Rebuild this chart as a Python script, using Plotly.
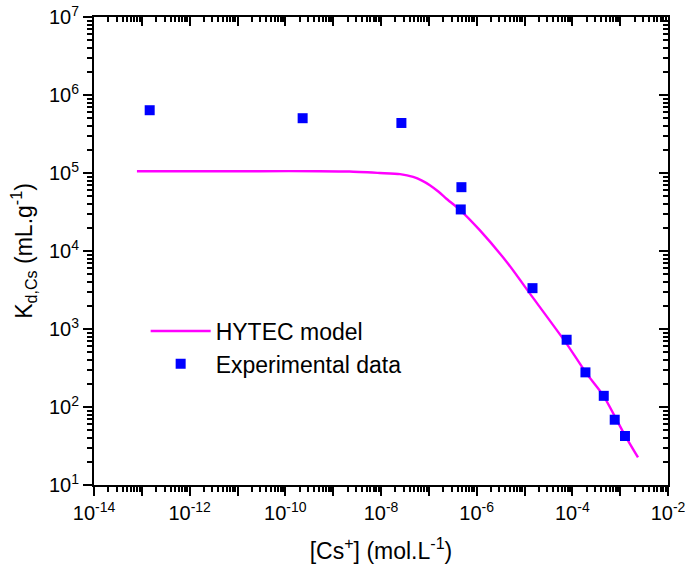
import plotly.graph_objects as go

exp_cs = [1.46e-13, 2.3e-10, 2.67e-8, 4.80e-7, 4.65e-7, 1.47e-5, 7.6e-5, 1.88e-4, 4.54e-4, 7.69e-4, 1.26e-3]
exp_kd = [6.38e5, 5.04e5, 4.38e5, 6.58e4, 3.41e4, 3.34e3, 728, 278, 139, 68.7, 42.5]

# HYTEC model curve
model_cs = [7.9e-14, 1.6e-12, 2.9e-11, 5.2e-10, 2.2e-9, 9.4e-9, 2.5e-8, 4.7e-8, 7.2e-8, 1.05e-7,
            1.6e-7, 2.3e-7, 4.4e-7, 1.16e-6, 4.5e-6, 1.29e-5, 7.5e-5, 1.97e-4, 4.4e-4, 1.25e-3, 2.36e-3]
model_kd = [1.055e5, 1.055e5, 1.055e5, 1.055e5, 1.045e5, 1.0e5, 9.66e4, 8.91e4, 8.0e4, 6.98e4,
            5.75e4, 4.71e4, 3.40e4, 1.85e4, 6.92e3, 2.86e3, 655, 270, 142, 43.7, 22.6]

x_exps = list(range(-14, -1))
y_exps = list(range(1, 8))
x_ticktext = [("10<sup>%d</sup>" % e) if e % 2 == 0 else "" for e in x_exps]
y_ticktext = ["10<sup>%d</sup>" % e for e in y_exps]

FONT = "Liberation Sans, Arial, sans-serif"

x_major = [10.0 ** e for e in x_exps]
y_major = [10.0 ** e for e in y_exps]
x_minor = [m * 10.0 ** e for e in x_exps[:-1] for m in range(2, 10)]
y_minor = [m * 10.0 ** e for e in y_exps[:-1] for m in range(2, 10)]

fig = go.Figure()
fig.add_trace(go.Scatter(x=model_cs, y=model_kd, mode="lines", name="HYTEC model",
                         line=dict(color="#FF00FF", width=2.4, shape="spline", smoothing=0.6)))
fig.add_trace(go.Scatter(x=exp_cs, y=exp_kd, mode="markers", name="Experimental data",
                         marker=dict(symbol="square", size=10, color="#0000FF", line=dict(width=0))))
# invisible trace to attach mirror axes (top/right, inward ticks)
fig.add_trace(go.Scatter(x=exp_cs, y=exp_kd, mode="markers", xaxis="x2", yaxis="y2",
                         marker=dict(opacity=0), showlegend=False, hoverinfo="skip"))

common = dict(type="log", showgrid=False, zeroline=False, showline=True, automargin=False,
              linecolor="black", linewidth=2, tickcolor="black", tickwidth=1.5)

fig.update_layout(
    width=685, height=566,
    margin=dict(l=94, r=17, t=17, b=81),
    paper_bgcolor="white", plot_bgcolor="white",
    font=dict(family=FONT, color="black"),
    xaxis=dict(**common, range=[-14, -2], tickmode="array", tickvals=x_major, ticktext=x_ticktext,
               ticks="outside", ticklen=9, ticklabeloverflow="allow",
               minor=dict(tickmode="array", tickvals=x_minor, ticks="outside", ticklen=5,
                          tickwidth=1.5, tickcolor="black", showgrid=False),
               tickfont=dict(size=20, family=FONT),
               title=dict(text="[Cs<sup>+</sup>] (mol.L<sup>-1</sup>)", font=dict(size=23, family=FONT),
                          standoff=20)),
    yaxis=dict(**common, range=[1, 7], tickmode="array", tickvals=y_major, ticktext=y_ticktext,
               ticks="outside", ticklen=9, ticklabeloverflow="allow",
               minor=dict(tickmode="array", tickvals=y_minor, ticks="outside", ticklen=5,
                          tickwidth=1.5, tickcolor="black", showgrid=False),
               tickfont=dict(size=20, family=FONT),
               title=dict(text="K<sub>d,Cs</sub> (mL.g<sup>-1</sup>)", font=dict(size=23, family=FONT),
                          standoff=10)),
    xaxis2=dict(**common, range=[-14, -2], overlaying="x", side="top", anchor="y2",
                tickmode="array", tickvals=x_major, ticks="inside", ticklen=9, showticklabels=False,
                minor=dict(tickmode="array", tickvals=x_minor, ticks="inside", ticklen=5,
                           tickwidth=1.5, tickcolor="black", showgrid=False)),
    yaxis2=dict(**common, range=[1, 7], overlaying="y", side="right", anchor="x2",
                tickmode="array", tickvals=y_major, ticks="inside", ticklen=9, showticklabels=False,
                minor=dict(tickmode="array", tickvals=y_minor, ticks="inside", ticklen=5,
                           tickwidth=1.5, tickcolor="black", showgrid=False)),
    showlegend=True,
    legend=dict(x=0.09, y=0.375, xanchor="left", yanchor="top", bgcolor="rgba(0,0,0,0)",
                font=dict(size=23, family=FONT), itemwidth=60, tracegroupgap=0),
)

fig.write_html("out.html", config={"displayModeBar": False},
               post_script="document.body.style.margin='0';document.body.style.overflow='hidden';")
